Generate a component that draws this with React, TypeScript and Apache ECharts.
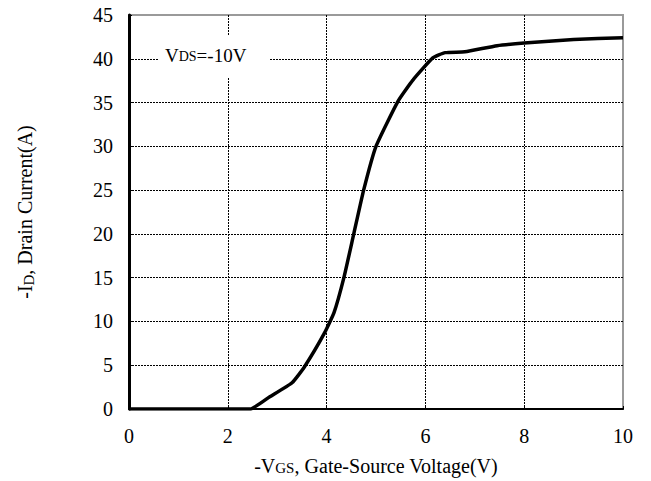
import React, { useEffect, useRef } from "react";
import * as echarts from "echarts";

const vgs = [0, 2.45, 2.85, 3.3, 3.55, 3.95, 4.15, 4.35, 4.55, 4.75, 5.0, 5.45, 5.75, 6.15, 6.4, 6.8, 7.45, 8.0, 9.0, 10];
const id = [0, 0, 1.4, 3.0, 4.8, 8.6, 11.0, 15.0, 20.0, 25.0, 30.0, 35.2, 37.6, 40.1, 40.7, 40.8, 41.5, 41.8, 42.2, 42.4];
const annotation = { main: "V", sub: "DS", rest: "=-10V" };

const FONT = "'Liberation Serif', 'DejaVu Serif', serif";

export default function App() {
  const ref = useRef<HTMLDivElement>(null);
  useEffect(() => {
    if (!ref.current) return;
    const chart = echarts.init(ref.current, null, { renderer: "svg" });
    const data = vgs.map((v, i) => [v, id[i]]);
    chart.setOption({
      animation: false,
      backgroundColor: "#fff",
      grid: {
        left: 129,
        right: 28,
        top: 15,
        bottom: 72,
        show: true,
        borderColor: "#9a9a9a",
        borderWidth: 2,
        backgroundColor: "transparent",
      },
      xAxis: {
        type: "value",
        min: 0,
        max: 10,
        interval: 2,
        axisLine: { show: true, onZero: false, lineStyle: { color: "#000", width: 2 } },
        axisTick: { show: true, inside: true, length: 3, lineStyle: { color: "#000" } },
        axisLabel: { color: "#000", fontFamily: FONT, fontSize: 20, margin: 17 },
        splitLine: { show: true, showMinLine: false, showMaxLine: false, lineStyle: { color: "#000", type: [2, 1], width: 1 } },
        name: "{a|-V}{b|GS}{a|, Gate-Source Voltage(V)}",
        nameLocation: "middle",
        nameGap: 47,
        nameTextStyle: {
          rich: {
            a: { fontFamily: FONT, fontSize: 20, color: "#000" },
            b: { fontFamily: FONT, fontSize: 15, color: "#000", padding: [3, 0, 0, 0] },
          },
        },
      },
      yAxis: {
        type: "value",
        min: 0,
        max: 45,
        interval: 5,
        axisLine: { show: true, lineStyle: { color: "#000", width: 3 } },
        axisTick: { show: true, inside: true, length: 3, lineStyle: { color: "#000" } },
        axisLabel: { color: "#000", fontFamily: FONT, fontSize: 20, margin: 16 },
        splitLine: { show: true, showMinLine: false, showMaxLine: false, lineStyle: { color: "#000", type: [2, 1], width: 1 } },
        name: "{a|-I}{b|D}{a|, Drain Current(A)}",
        nameLocation: "middle",
        nameGap: 93,
        nameRotate: 90,
        nameTextStyle: {
          rich: {
            a: { fontFamily: FONT, fontSize: 20, color: "#000" },
            b: { fontFamily: FONT, fontSize: 15, color: "#000", padding: [8, 0, 0, 0] },
          },
        },
      },
      graphic: [
        {
          type: "rect",
          left: 158,
          top: 35,
          shape: { width: 112, height: 42 },
          style: { fill: "#fff" },
          z: 10,
        },
        {
          type: "text",
          left: 165,
          top: 46,
          z: 11,
          style: {
            text: `{a|${annotation.main}}{b|${annotation.sub}}{a|${annotation.rest}}`,
            rich: {
              a: { fontFamily: FONT, fontSize: 19, fill: "#000" },
              b: { fontFamily: FONT, fontSize: 14, fill: "#000", padding: [2, 0, 0, 0] },
            },
          },
        },
      ],
      series: [
        {
          type: "line",
          data,
          smooth: 0.15,
          showSymbol: false,
          lineStyle: { color: "#000", width: 3.5 },
          z: 20,
        },
      ],
    });
    return () => chart.dispose();
  }, []);
  return <div ref={ref} style={{ width: 651, height: 481, position: "absolute", left: 0, top: 0 }} />;
}
